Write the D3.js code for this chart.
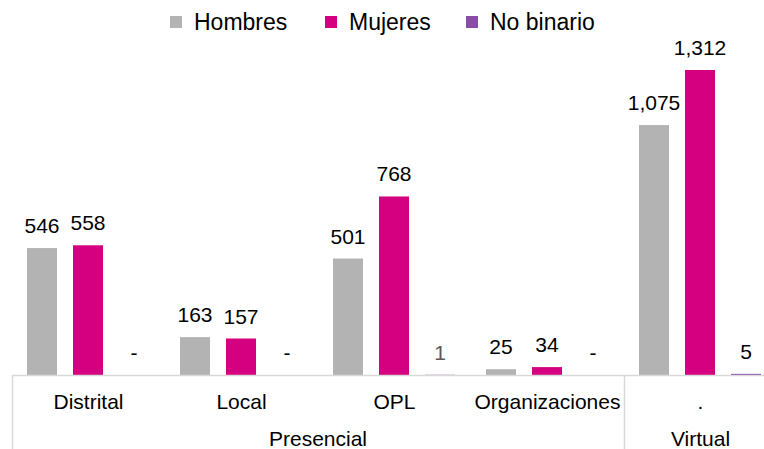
<!DOCTYPE html>
<html>
<head>
<meta charset="utf-8">
<script src="https://cdn.jsdelivr.net/npm/d3@7"></script>
<style>
  body { margin: 0; background: #fff; }
  text { font-family: "Liberation Sans", Arial, sans-serif; fill: #000; }
</style>
</head>
<body>
<div id="chart"></div>
<script>
// data
var categories = ["Distrital", "Local", "OPL", "Organizaciones", "."];
var series = ["Hombres", "Mujeres", "No binario"];
var hombres = [546, 163, 501, 25, 1075];
var mujeres = [558, 157, 768, 34, 1312];
var noBinario = [0, 0, 1, 0, 5];
var groupNames = ["Presencial", "Virtual"];
var colors = ["#b3b3b3", "#d5007f", "#8b4ca8"];

var width = 764, height = 449;
var base = 375;

var svg = d3.select("#chart").append("svg")
    .attr("width", width)
    .attr("height", height);

// category scale (last band runs past the right edge, like the original)
var x = d3.scaleBand()
    .domain(categories)
    .range([12, 12 + 5 * 153]);

var xSub = d3.scaleBand()
    .domain(series)
    .range([15, 137])
    .paddingInner(16 / 46)
    .paddingOuter(0);

var y = d3.scaleLinear()
    .domain([0, 1312])
    .range([base, 70]);

var values = [hombres, mujeres, noBinario];
var rows = [];
series.forEach(function(s, i) {
  categories.forEach(function(c, j) {
    rows.push({serie: s, cat: c, value: values[i][j], color: colors[i]});
  });
});

var fmt = d3.format(",");

// bars
svg.selectAll("rect.bar")
  .data(rows)
  .enter()
  .append("rect")
    .attr("class", "bar")
    .attr("x", function(d) { return x(d.cat) + xSub(d.serie); })
    .attr("y", function(d) { return y(d.value); })
    .attr("width", xSub.bandwidth())
    .attr("height", function(d) { return base - y(d.value); })
    .style("fill", function(d) { return d.color; });

// value labels
svg.selectAll("text.val")
  .data(rows)
  .enter()
  .append("text")
    .attr("class", "val")
    .attr("x", function(d) { return x(d.cat) + xSub(d.serie) + xSub.bandwidth() / 2; })
    .attr("y", function(d) { return y(d.value) - 15; })
    .attr("text-anchor", "middle")
    .style("font-size", "21px")
    .style("fill", function(d) { return d.value === 1 ? "#595959" : "#000"; })
    .text(function(d) { return d.value === 0 ? "-" : fmt(d.value); });

// axis lines
var lineColor = "#d9d9d9";
svg.append("line")
    .attr("x1", 12).attr("x2", width)
    .attr("y1", base + 0.5).attr("y2", base + 0.5)
    .style("stroke", lineColor).style("stroke-width", 1.5);
svg.append("line")
    .attr("x1", 12.5).attr("x2", 12.5)
    .attr("y1", base).attr("y2", height)
    .style("stroke", lineColor).style("stroke-width", 1.5);
svg.append("line")
    .attr("x1", x(".") + 0.5).attr("x2", x(".") + 0.5)
    .attr("y1", base).attr("y2", height)
    .style("stroke", lineColor).style("stroke-width", 1.5);

// category labels
svg.selectAll("text.cat")
  .data(categories)
  .enter()
  .append("text")
    .attr("class", "cat")
    .attr("x", function(d) { return x(d) + x.bandwidth() / 2; })
    .attr("y", 409)
    .attr("text-anchor", "middle")
    .style("font-size", "21px")
    .text(function(d) { return d; });

// group labels
var groupCenters = [
  (x("Distrital") + x("Organizaciones") + x.bandwidth()) / 2,
  x(".") + x.bandwidth() / 2
];
svg.selectAll("text.grp")
  .data(groupNames)
  .enter()
  .append("text")
    .attr("class", "grp")
    .attr("x", function(d, i) { return groupCenters[i]; })
    .attr("y", 446)
    .attr("text-anchor", "middle")
    .style("font-size", "21px")
    .text(function(d) { return d; });

// legend
var legendX = [170, 325, 466];
var legend = svg.selectAll("g.leg")
  .data(series)
  .enter()
  .append("g")
    .attr("class", "leg")
    .attr("transform", function(d, i) { return "translate(" + legendX[i] + ",16)"; });
legend.append("rect")
    .attr("width", 12).attr("height", 12)
    .style("fill", function(d, i) { return colors[i]; });
legend.append("text")
    .attr("x", 24)
    .attr("y", 14)
    .style("font-size", "23px")
    .text(function(d) { return d; });
</script>
</body>
</html>
